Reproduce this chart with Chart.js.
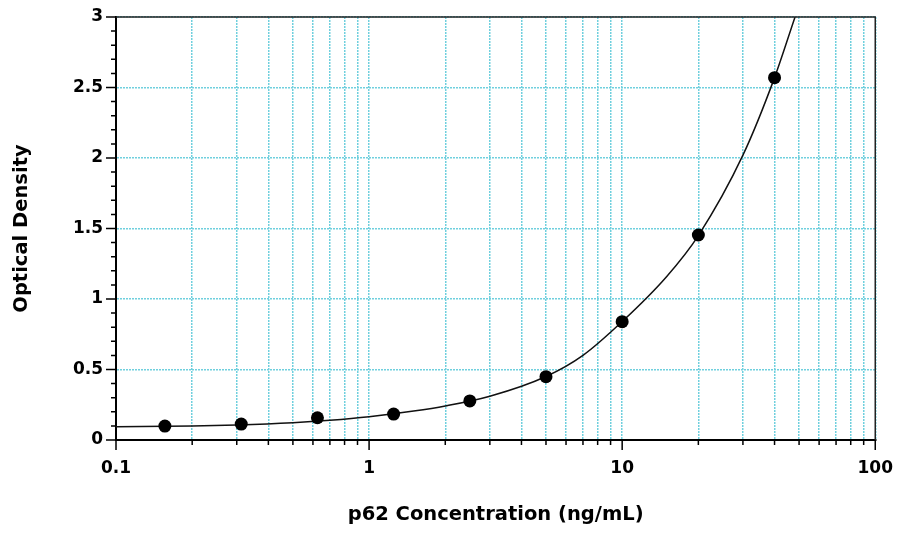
<!DOCTYPE html>
<html>
<head>
<meta charset="utf-8">
<script src="https://cdn.jsdelivr.net/npm/chart.js@4/dist/chart.umd.min.js"></script>
<style>
html,body{margin:0;padding:0;background:#fff;}
#wrap{width:901px;height:533px;}
</style>
</head>
<body>
<div id="wrap"><canvas id="c" width="901" height="533"></canvas></div>
<script>
// Standard points
const concentrations = [0.156, 0.3125, 0.625, 1.25, 2.5, 5, 10, 20, 40];
const opticalDensity = [0.099, 0.113, 0.158, 0.184, 0.277, 0.449, 0.839, 1.454, 2.57];
// Fitted curve
const curveX = [0.1, 0.2, 0.3, 0.5, 0.7, 1, 1.5, 2, 3, 5, 7, 10, 15, 20, 30, 40, 48.2];
const curveY = [0.094, 0.100, 0.107, 0.123, 0.140, 0.165, 0.205, 0.241, 0.31, 0.45, 0.60, 0.84, 1.16, 1.45, 2.02, 2.57, 3.0];
// Ticks
const xTickValues = [0.1,0.2,0.3,0.4,0.5,0.6,0.7,0.8,0.9,1,2,3,4,5,6,7,8,9,10,20,30,40,50,60,70,80,90,100];
const xLabelValues = [0.1, 1, 10, 100];
const yTickValues = [0, 0.5, 1, 1.5, 2, 2.5, 3];
const yMinorTickValues = [0,0.1,0.2,0.3,0.4,0.5,0.6,0.7,0.8,0.9,1,1.1,1.2,1.3,1.4,1.5,1.6,1.7,1.8,1.9,2,2.1,2.2,2.3,2.4,2.5,2.6,2.7,2.8,2.9,3];
const xTitle = 'p62 Concentration (ng/mL)';
const yTitle = 'Optical Density';

const GRID = 'rgb(112,208,222)';
const tickFont = {family: 'DejaVu Sans', weight: 'bold', size: 17};
const titleFont = {family: 'DejaVu Sans', weight: 'bold', size: 19.5};

const framePlugin = {
  id: 'framePlugin',
  afterDraw(chart) {
    const {ctx, chartArea: a, scales: {x, y}} = chart;
    ctx.save();
    ctx.strokeStyle = '#000';
    ctx.lineWidth = 1.5;
    ctx.setLineDash([]);
    ctx.beginPath();
    yMinorTickValues.forEach(v => {
      const len = yTickValues.includes(v) ? 10 : 5;
      const py = y.getPixelForValue(v);
      ctx.moveTo(a.left - len, py);
      ctx.lineTo(a.left, py);
    });
    xTickValues.forEach(v => {
      const len = xLabelValues.includes(v) ? 10 : 5;
      const px = x.getPixelForValue(v);
      ctx.moveTo(px, a.bottom);
      ctx.lineTo(px, a.bottom + len);
    });
    ctx.stroke();
    ctx.beginPath();
    ctx.strokeStyle = '#222';
    ctx.lineWidth = 1.5;
    ctx.moveTo(a.left, a.top);
    ctx.lineTo(a.right, a.top);
    ctx.lineTo(a.right, a.bottom);
    ctx.stroke();
    ctx.restore();
  }
};

new Chart(document.getElementById('c'), {
  type: 'scatter',
  data: {
    datasets: [
      {
        label: 'Standards',
        data: concentrations.map((c, i) => ({x: c, y: opticalDensity[i]})),
        pointRadius: 6.5,
        pointBackgroundColor: '#000',
        pointBorderWidth: 0,
        showLine: false
      },
      {
        label: 'Curve',
        data: curveX.map((c, i) => ({x: c, y: curveY[i]})),
        showLine: true,
        pointRadius: 0,
        borderColor: '#111',
        borderWidth: 1.5,
        cubicInterpolationMode: 'monotone',
        fill: false
      }
    ]
  },
  options: {
    responsive: false,
    animation: false,
    devicePixelRatio: 1,
    layout: {padding: {left: 0, right: 24, top: 17, bottom: 0}},
    plugins: {legend: {display: false}, tooltip: {enabled: false}},
    scales: {
      x: {
        type: 'logarithmic',
        position: 'bottom',
        min: 0.1,
        max: 100,
        afterBuildTicks: s => { s.ticks = xTickValues.map(v => ({value: v})); },
        afterFit: s => { s.height = 93; },
        ticks: {
          autoSkip: false,
          maxRotation: 0,
          minRotation: 0,
          padding: 8,
          color: '#000',
          font: tickFont,
          major: {enabled: false},
          callback: v => xLabelValues.includes(v) ? String(v) : ''
        },
        grid: {
          color: GRID,
          lineWidth: 1.5,
          tickLength: 10,
          tickWidth: 0,
          tickColor: 'rgba(0,0,0,0)'
        },
        border: {display: true, color: '#000', width: 2, dash: [2, 1]},
        title: {display: true, text: xTitle, color: '#000', font: titleFont, padding: {top: 0, bottom: 6}}
      },
      y: {
        type: 'linear',
        position: 'left',
        min: 0,
        max: 3,
        afterBuildTicks: s => { s.ticks = yTickValues.map(v => ({value: v})); },
        afterFit: s => { s.width = 116; },
        ticks: {
          padding: 3,
          color: '#000',
          font: tickFont,
          callback: v => String(v)
        },
        grid: {
          color: GRID,
          lineWidth: 1.5,
          tickLength: 10,
          tickWidth: 0,
          tickColor: 'rgba(0,0,0,0)'
        },
        border: {display: true, color: '#000', width: 2, dash: [2, 1]},
        title: {display: true, text: yTitle, color: '#000', font: titleFont, padding: {top: 10, bottom: 0}}
      }
    }
  },
  plugins: [framePlugin]
});
</script>
</body>
</html>
